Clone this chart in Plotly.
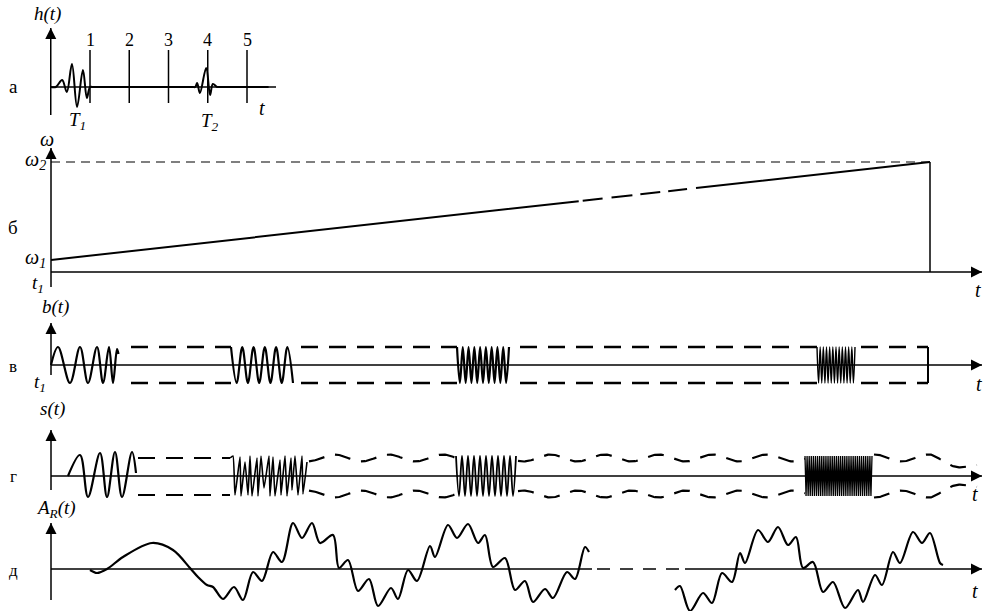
import numpy as np
import plotly.graph_objects as go

# ---------------- values ----------------
# а) impulse response h(t): two short echoes T1 and T2 on a unit time grid
h_grid = [1, 2, 3, 4, 5]
h_grid_labels = ["1", "2", "3", "4", "5"]
h_t = [0.0, 0.13, 0.29, 0.41, 0.54, 0.67, 0.82, 0.92, 1.0, 1.06,
       3.62, 3.68, 3.73, 3.80, 3.96, 4.06, 4.13, 4.24, 4.30, 5.55]
h_v = [0, 0, 7, -5, 23, -20, 17, -11, 0, 0,
       0, 0, 4, -6, 19, -8, 3, 0, 0, 0]
h_grid_low, h_grid_high = -16, 37

# б) linear frequency sweep ω(t) from ω1 to ω2
w_t = [0, 879]
w_omega = [12, 110]
w_labels = ["ω<sub>1</sub>", "ω<sub>2</sub>"]

# в) sounding signal b(t): chirp bursts under a constant envelope
b_amp = 18
b_burst1_t = [0, 7, 19, 29, 37, 46, 52, 58, 62, 66, 67.5]
b_burst1_v = [0, 18, -18, 18, -18, 18, -18, 18, -18, 16, 11]
b_burst_start = [180, 406, 766]
b_burst_end = [242, 458, 804]
b_burst_halves = [11, 18, 24]
b_env_gaps = [[80, 180], [250, 406], [469, 766], [810, 877]]
b_t_end = 877

# г) received signal s(t)
s_amp = 18
s_burst1_t = [17, 29, 37, 49, 56, 64, 71, 81, 85]
s_burst1_v = [0, 21, -21, 23, -21, 24, -21, 24, 3]
s_burst2_t = [179, 182, 184, 189, 190, 194, 197, 199, 201, 206, 207, 210, 213, 218,
              219, 222, 224, 229, 230, 234, 236, 240, 241, 244, 247, 251, 252, 256]
s_burst2_v = [18, 20, -19, 19, -20, 14, -19, 20, -20, 18, -20, 20, -12, 20,
              -20, 19, -20, 16, -19, 20, -20, 18, -14, 20, -19, 20, -18, 14]
s_burst_start = [405, 754]
s_burst_end = [465, 821]
s_burst_halves = [20, 64]
s_env_straight = [87, 179]
s_env_wavy = [[258, 405], [467, 754], [823, 926]]
s_ripple_period = 54
s_ripple_depth = 3.5
s_taper_from, s_taper_to, s_taper_amp = 880, 926, 8

# д) autocorrelation A_R(t)
r1_t = [39, 46, 56, 72, 101, 122, 139, 147, 156, 162, 172, 183, 192, 202, 211, 222, 231,
        242, 251, 261, 269, 282, 288, 297, 307, 318, 327, 340, 347, 357, 366, 379, 384,
        397, 406, 417, 427, 434, 442, 454, 464, 474, 482, 494, 502, 516, 524, 534, 538]
r1_v = [-1, -4, 0, 12, 26, 19, 1, -8, -16, -18, -30, -18, -31, -3, -12, 17, 7,
        46, 31, 46, 26, 34, 1, 9, -22, -10, -37, -19, -30, -1, -12, 23, 12,
        44, 31, 45, 26, 34, 2, 11, -21, -12, -33, -20, -29, -3, -10, 22, 17]
r2_t = [624, 629, 639, 652, 661, 671, 681, 689, 694, 707, 717, 727, 737, 745, 752,
        762, 772, 782, 794, 807, 812, 824, 831, 842, 849, 862, 871, 879, 889, 892]
r2_v = [-21, -17, -42, -24, -34, -4, -13, 16, 6, 39, 27, 42, 24, 32, 1,
        7, -23, -13, -39, -21, -33, -6, -16, 17, 6, 37, 26, 36, 6, 4]
r_gap = [541, 634]

# ---------------- drawing ----------------
W, H = 984, 611
INK = "#000000"
SERIF = "Liberation Serif, Times New Roman, DejaVu Serif, serif"

fig = go.Figure()
axes_layout = {}
annotations = []


def panel(idx, x_px, origin_px, x_scale, y_px, baseline_px):
    """Axes for one panel; x_scale px per time unit, 1 value unit = 1 px."""
    sfx = "" if idx == 1 else str(idx)
    top, bottom = y_px
    axes_layout["xaxis" + sfx] = dict(
        domain=[x_px[0] / W, x_px[1] / W],
        range=[(x_px[0] - origin_px) / x_scale, (x_px[1] - origin_px) / x_scale],
        visible=False, fixedrange=True, anchor="y" + sfx)
    axes_layout["yaxis" + sfx] = dict(
        domain=[1 - bottom / H, 1 - top / H],
        range=[baseline_px - bottom, baseline_px - top],
        visible=False, fixedrange=True, anchor="x" + sfx)
    return ("x" + sfx, "y" + sfx)


def line(ax, xs, ys, width=2.0, dash=None, shape="linear", smoothing=1.0):
    fig.add_trace(go.Scatter(
        x=list(xs), y=list(ys), xaxis=ax[0], yaxis=ax[1], mode="lines",
        line=dict(color=INK, width=width, dash=dash, shape=shape, smoothing=smoothing),
        hoverinfo="skip", showlegend=False, cliponaxis=False))


def arrow(ax, tail, tip, width=1.5):
    """Axis line with a filled arrowhead whose point sits on the tip."""
    line(ax, [tail[0], tip[0]], [tail[1], tip[1]], width=width)
    symbol = "arrow-up" if tail[0] == tip[0] else "arrow-right"
    fig.add_trace(go.Scatter(
        x=[tip[0]], y=[tip[1]], xaxis=ax[0], yaxis=ax[1], mode="markers",
        marker=dict(symbol=symbol, size=11, color=INK, line=dict(width=0)),
        hoverinfo="skip", showlegend=False, cliponaxis=False))


def label(text, px, py, size=19, italic=True):
    annotations.append(dict(
        xref="paper", yref="paper", x=px / W, y=1 - py / H, text=text,
        showarrow=False, xanchor="center", yanchor="middle",
        font=dict(family=SERIF, size=size, color=INK,
                  style="italic" if italic else "normal")))


def burst(start, end, halves, amp, first=1):
    ts = np.linspace(start, end, halves + 1)
    vs = [amp * first * (1 if k % 2 == 0 else -1) for k in range(halves + 1)]
    return ts, vs


A = panel(1, (40, 276), 50.75, 39.25, (18, 128), 87)
B = panel(2, (41, 984), 51, 1.0, (135, 300), 272)
V = panel(3, (41, 984), 51, 1.0, (312, 398), 365)
G = panel(4, (41, 984), 51, 1.0, (420, 508), 476)
D = panel(5, (41, 984), 51, 1.0, (498, 611), 569)

# а
arrow(A, (0, -28), (0, 59))
arrow(A, (0, 0), (5.739, 0))
gx, gy = [], []
for k in h_grid:
    gx += [k, k, None]
    gy += [h_grid_low, h_grid_high, None]
line(A, gx, gy, width=1.5)
line(A, h_t, h_v, width=2, shape="spline", smoothing=1.0)
for k, lab in zip(h_grid, h_grid_labels):
    annotations.append(dict(xref=A[0], yref=A[1], x=k, y=47, text=lab, showarrow=False,
                            xanchor="center", yanchor="middle",
                            font=dict(family=SERIF, size=18, color=INK)))

# б
arrow(B, (0, -15), (0, 124))
arrow(B, (0, 0), (931, 0))
line(B, [0, w_t[1]], [w_omega[1], w_omega[1]], width=1.2, dash="9px,6px")
line(B, w_t, w_omega, width=2,
     dash="531px,4px,20px,9px,21px,8px,20px,8px,19px,9px,600px")
line(B, [w_t[1], w_t[1]], [0, w_omega[1]], width=1.5)
for val, txt in zip(w_omega, w_labels):
    annotations.append(dict(xref=B[0], yref=B[1], x=0, y=val, text=txt, showarrow=False,
                            xanchor="right", yanchor="middle", xshift=-3, yshift=2,
                            font=dict(family=SERIF, size=20, color=INK, style="italic")))

# в
arrow(V, (0, -10), (0, 42))
arrow(V, (0, 0), (931, 0))
line(V, b_burst1_t, b_burst1_v, width=2.2, shape="spline")
for st, en, nh in zip(b_burst_start, b_burst_end, b_burst_halves):
    ts, vs = burst(st, en, nh, b_amp)
    line(V, ts, vs, width=2.2 if nh < 20 else 1.4, shape="spline")
for g0, g1 in b_env_gaps:
    line(V, [g0, g1], [b_amp, b_amp], width=2.4, dash="17px,11px")
    line(V, [g0, g1], [-b_amp, -b_amp], width=2.4, dash="17px,11px")
line(V, [b_t_end, b_t_end], [-b_amp, b_amp], width=2)

# г
arrow(G, (0, -14), (0, 46))
arrow(G, (0, 0), (931, 0))
line(G, s_burst1_t, s_burst1_v, width=2.2, shape="spline")
line(G, s_burst2_t, s_burst2_v, width=1.6, shape="spline", smoothing=0.4)
for st, en, nh in zip(s_burst_start, s_burst_end, s_burst_halves):
    ts, vs = burst(st, en, nh, s_amp + 2)
    line(G, ts, vs, width=1.8 if nh < 30 else 1.3, shape="spline" if nh < 30 else "linear")
line(G, s_env_straight, [s_amp, s_amp], width=2.2, dash="17px,11px")
line(G, s_env_straight, [-s_amp - 1, -s_amp - 1], width=2.2, dash="17px,11px")
for g0, g1 in s_env_wavy:
    tt = np.linspace(g0, g1, int(g1 - g0) + 1)
    base = np.where(tt > s_taper_from,
                    s_amp - (s_amp - s_taper_amp) * (tt - s_taper_from) / (s_taper_to - s_taper_from),
                    s_amp)
    ripple = s_ripple_depth * np.sin(2 * np.pi * tt / s_ripple_period)
    line(G, tt, base + ripple, width=2.2, dash="16px,11px")
    line(G, tt, -(base + ripple), width=2.2, dash="16px,11px")

# д
arrow(D, (0, -31), (0, 46))
line(D, [0, r_gap[0]], [0, 0], width=1.6)
line(D, [r_gap[0] + 5, r_gap[1]], [0, 0], width=1.6, dash="13px,10px")
arrow(D, (r_gap[1], 0), (931, 0), width=1.6)
line(D, r1_t, r1_v, width=2.2, shape="spline", smoothing=0.9)
line(D, r2_t, r2_v, width=2.2, shape="spline", smoothing=0.9)

# text
label("h(t)", 47, 14)
label("а", 13, 86, italic=False)
label("T<sub>1</sub>", 77, 121)
label("T<sub>2</sub>", 210, 122)
label("t", 262, 108, 20)
label("ω", 47, 139, 20)
label("б", 13, 227, italic=False)
label("t<sub>1</sub>", 38, 284)
label("t", 978, 290, 20)
label("b(t)", 55, 307)
label("в", 13, 366, 17, italic=False)
label("t<sub>1</sub>", 40, 383)
label("t", 979, 384, 20)
label("s(t)", 52, 409)
label("г", 13, 476, 17, italic=False)
label("t", 975, 494, 20)
label("A<sub>R</sub>(t)", 56, 509)
label("д", 13, 570, 17, italic=False)
label("t", 975, 591, 20)

fig.update_layout(
    width=W, height=H, margin=dict(l=0, r=0, t=0, b=0),
    paper_bgcolor="white", plot_bgcolor="rgba(0,0,0,0)",
    font=dict(family=SERIF, color=INK),
    showlegend=False, annotations=annotations, **axes_layout)

fig.write_html("out.html", config={"displayModeBar": False})
